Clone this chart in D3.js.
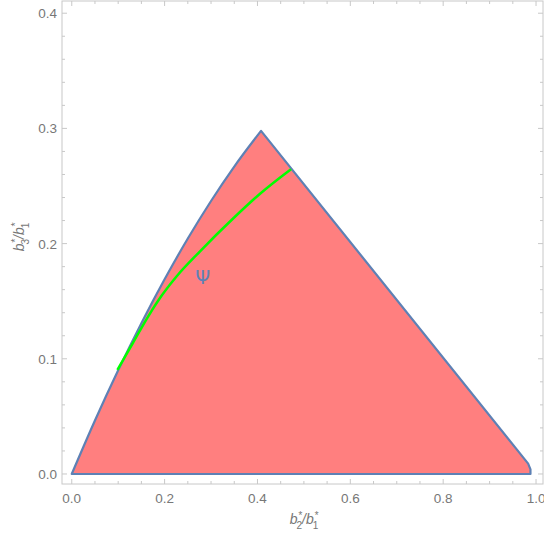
<!DOCTYPE html>
<html><head><meta charset="utf-8">
<script src="https://cdn.jsdelivr.net/npm/d3@7"></script>
<style>body{margin:0;background:#fff;}svg{display:block;font-family:"Liberation Sans",Arial,sans-serif;}</style>
</head><body>
<svg id="c" width="544" height="539"></svg>
<script>
// Left (curved) boundary of region, from origin to apex
const leftEdge = [[0,0],[0.05,0.0464],[0.10,0.0900],[0.15,0.1309],[0.20,0.1690],[0.25,0.2044],[0.30,0.2370],[0.35,0.2669],[0.4077,0.2979]];
// Right straight boundary and bottom
const rightEdge = [[0.4077,0.2979],[0.983,0.009],[0.988,0.004],[0.988,0],[0,0]];
// Green curve Ψ
const psiCurve = [[0.0983,0.0903],[0.1313,0.1134],[0.1651,0.1371],[0.1938,0.1549],[0.2261,0.1717],[0.2763,0.1933],[0.3481,0.2220],[0.4056,0.2433],[0.4723,0.2646]];
const psiLabel = {x:0.282, y:0.171, text:"Ψ"};
const xTicks = [0,0.2,0.4,0.6,0.8,1.0];
const yTicks = [0,0.1,0.2,0.3,0.4];

const svg = d3.select("#c");
const x = d3.scaleLinear().domain([-0.021,1.015]).range([62,543]);
const y = d3.scaleLinear().domain([-0.0087,0.4106]).range([484,1]);

const frameCol = "#c8c8c8";
const g = svg.append("g");
g.append("rect").attr("x",62).attr("y",1).attr("width",481).attr("height",483)
  .attr("fill","none").attr("stroke",frameCol).attr("stroke-width",1);

const xMinor = d3.range(0,1.0001,0.05);
const yMinor = d3.range(0,0.4001,0.02);
function isMajor(v, arr){return arr.some(t=>Math.abs(t-v)<1e-6);}
xMinor.forEach(v=>{
  const len = isMajor(v,xTicks)?5:3;
  g.append("line").attr("x1",x(v)).attr("x2",x(v)).attr("y1",484).attr("y2",484-len).attr("stroke",frameCol);
  g.append("line").attr("x1",x(v)).attr("x2",x(v)).attr("y1",1).attr("y2",1+len).attr("stroke",frameCol);
});
yMinor.forEach(v=>{
  const len = isMajor(v,yTicks)?5:3;
  g.append("line").attr("y1",y(v)).attr("y2",y(v)).attr("x1",62).attr("x2",62+len).attr("stroke",frameCol);
  g.append("line").attr("y1",y(v)).attr("y2",y(v)).attr("x1",543).attr("x2",543-len).attr("stroke",frameCol);
});
const fmt = d3.format(".1f");
g.selectAll(".xt").data(xTicks).enter().append("text")
  .attr("x",d=>x(d)).attr("y",503).attr("text-anchor","middle")
  .attr("font-size",13.5).attr("fill","#777").text(fmt);
g.selectAll(".yt").data(yTicks).enter().append("text")
  .attr("x",57).attr("y",d=>y(d)+5).attr("text-anchor","end")
  .attr("font-size",13.5).attr("fill","#777").text(fmt);

// region
const curveLine = d3.line().x(d=>x(d[0])).y(d=>y(d[1])).curve(d3.curveMonotoneX);
const straight = d3.line().x(d=>x(d[0])).y(d=>y(d[1]));
const dPath = curveLine(leftEdge) + straight(rightEdge).replace(/^M/,"L") + "Z";
svg.append("path").attr("d",dPath).attr("fill","#ff7f7f").attr("stroke","#5e81b5")
  .attr("stroke-width",2.2).attr("stroke-linejoin","round");

svg.append("path").attr("d",curveLine(psiCurve)).attr("fill","none")
  .attr("stroke","#00ff00").attr("stroke-width",2.5);

svg.append("text").attr("x",x(psiLabel.x)).attr("y",y(psiLabel.y)+7).attr("text-anchor","middle")
  .attr("font-size",19).attr("fill","#5e81b5").attr("font-family","DejaVu Sans").text(psiLabel.text);

// axis labels (sub/superscripts stacked)
function ratioLabel(sel, top){
  sel.append("tspan").text("b");
  sel.append("tspan").attr("font-size",10).attr("dy",-5).attr("dx",0.5).text("*");
  sel.append("tspan").attr("font-size",10).attr("dx",-5.5).attr("dy",10).attr("font-style","normal").text(top);
  sel.append("tspan").attr("dy",-5).text("/b");
  sel.append("tspan").attr("font-size",10).attr("dy",-5).attr("dx",0.5).text("*");
  sel.append("tspan").attr("font-size",10).attr("dx",-5.5).attr("dy",10).attr("font-style","normal").text("1");
}
const xl = svg.append("text").attr("x",304).attr("y",524).attr("text-anchor","middle")
  .attr("font-size",14).attr("fill","#777").attr("font-style","italic");
ratioLabel(xl,"2");
const yl = svg.append("text").attr("transform","translate(24,237) rotate(-90)").attr("text-anchor","middle")
  .attr("font-size",14).attr("fill","#777").attr("font-style","italic");
ratioLabel(yl,"3");
</script>
</body></html>
